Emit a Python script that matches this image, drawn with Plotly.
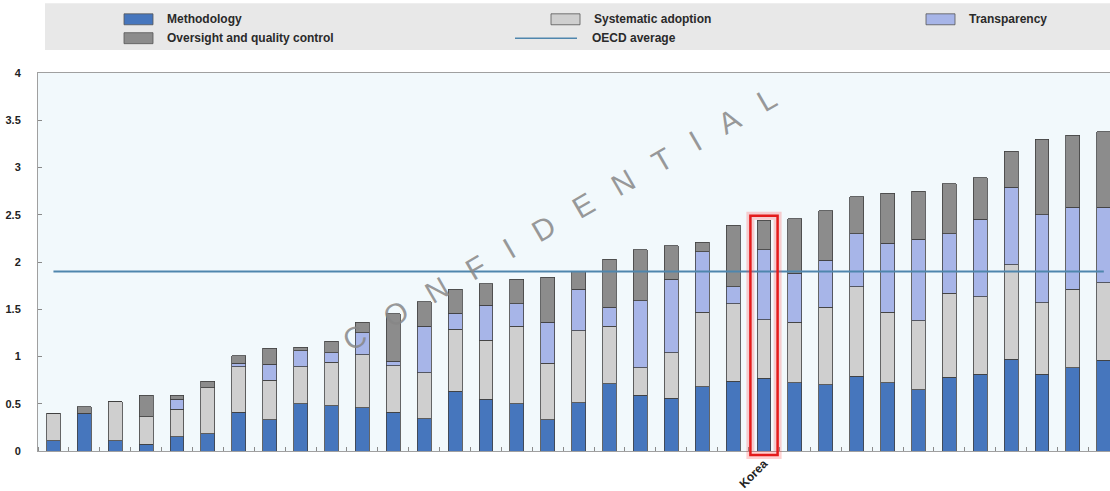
import plotly.graph_objects as go

# Country positions along the x axis; only Korea is labelled
labels = ["", "", "", "", "", "", "", "", "", "", "", "", "",
          "", "", "", "", "", "", "", "", "", "", "Korea", "", "",
          "", "", "", "", "", "", "", "", ""]

methodology = [0.11, 0.40, 0.11, 0.07, 0.15, 0.18, 0.41, 0.33, 0.50, 0.48,
               0.46, 0.41, 0.34, 0.63, 0.55, 0.50, 0.33, 0.51, 0.71, 0.59,
               0.56, 0.68, 0.74, 0.77, 0.72, 0.70, 0.79, 0.72, 0.65, 0.78,
               0.81, 0.97, 0.81, 0.88, 0.96]
systematic = [0.29, 0.00, 0.41, 0.29, 0.29, 0.49, 0.48, 0.42, 0.39, 0.46,
              0.56, 0.49, 0.49, 0.66, 0.62, 0.82, 0.60, 0.76, 0.61, 0.29,
              0.48, 0.79, 0.82, 0.62, 0.64, 0.82, 0.95, 0.75, 0.73, 0.89,
              0.82, 1.00, 0.76, 0.83, 0.82]
transparency = [0.00, 0.00, 0.00, 0.00, 0.11, 0.00, 0.04, 0.17, 0.17, 0.10,
                0.23, 0.05, 0.49, 0.17, 0.37, 0.24, 0.43, 0.44, 0.20, 0.71,
                0.78, 0.64, 0.18, 0.74, 0.52, 0.50, 0.56, 0.73, 0.86, 0.63,
                0.82, 0.82, 0.93, 0.87, 0.80]
oversight = [0.00, 0.07, 0.00, 0.23, 0.04, 0.07, 0.08, 0.17, 0.04, 0.12,
             0.11, 0.50, 0.26, 0.25, 0.23, 0.26, 0.48, 0.19, 0.51, 0.54,
             0.35, 0.10, 0.65, 0.31, 0.58, 0.52, 0.39, 0.53, 0.51, 0.53,
             0.44, 0.38, 0.80, 0.76, 0.80]
oecd_average = 1.9

highlight = "Korea"
y_ticks = [0, 0.5, 1, 1.5, 2, 2.5, 3, 3.5, 4]

FONT = "Liberation Sans Narrow, Liberation Sans, Arial, sans-serif"
C_METH = "#4676bd"
C_SYS = "#cfcfcf"
C_TRANS = "#a7b5e8"
C_OVER = "#8c8c8c"
C_OECD = "#4f86ad"
OUTLINE = "#404040"

W, H = 1110, 491
ML, MR, MT, MB = 38, 0, 73, 38
PW, PH = W - ML - MR, H - MT - MB


def px(x):
    return (x - ML) / PW


def py(y):
    return (H - MB - y) / PH


xs = list(range(len(labels)))
series = [
    ("Methodology", methodology, C_METH),
    ("Systematic adoption", systematic, C_SYS),
    ("Transparency", transparency, C_TRANS),
    ("Oversight and quality control", oversight, C_OVER),
]

fig = go.Figure()
for name, vals, col in series:
    fig.add_trace(go.Bar(
        x=xs, y=vals, name=name, width=0.45,
        marker=dict(color=col, line=dict(color=OUTLINE, width=0.8)),
        showlegend=False,
    ))

fig.add_trace(go.Scatter(
    x=xs, y=[oecd_average] * len(xs), mode="lines", name="OECD average",
    line=dict(color=C_OECD, width=2), showlegend=False,
))

shapes = []
annotations = []

# Legend band
shapes.append(dict(type="rect", xref="paper", yref="paper",
                   x0=px(45), x1=px(1112), y0=py(50), y1=py(3),
                   fillcolor="#e8e8e8", line=dict(width=0), layer="below"))

legend_items = [
    ("Methodology", C_METH, "box", 124, 19),
    ("Systematic adoption", C_SYS, "box", 551, 19),
    ("Transparency", C_TRANS, "box", 926, 19),
    ("Oversight and quality control", C_OVER, "box", 124, 38),
    ("OECD average", C_OECD, "line", 515, 38),
]
for name, col, kind, x, y in legend_items:
    if kind == "box":
        shapes.append(dict(type="rect", xref="paper", yref="paper",
                           x0=px(x), x1=px(x + 29), y0=py(y + 5.5), y1=py(y - 5.5),
                           fillcolor=col, line=dict(color="#555555", width=0.8)))
        tx = x + 41
    else:
        shapes.append(dict(type="line", xref="paper", yref="paper",
                           x0=px(x), x1=px(x + 62), y0=py(y), y1=py(y),
                           line=dict(color=col, width=1.5)))
        tx = x + 75
    annotations.append(dict(xref="paper", yref="paper", x=px(tx), y=py(y),
                            text=name, showarrow=False, xanchor="left",
                            yanchor="middle",
                            font=dict(family=FONT, size=12, weight="bold",
                                      color="#2a2a2a")))

# Highlight box around Korea
k = labels.index(highlight)
for lw, lc in [(8, "rgba(255,70,70,0.25)"), (2.5, "#e41b1b")]:
    shapes.append(dict(type="rect", xref="x", yref="paper",
                       x0=k - 0.44, x1=k + 0.44, y0=py(457), y1=2.49 / 4,
                       line=dict(color=lc, width=lw), fillcolor="rgba(0,0,0,0)",
                       layer="above"))

# Watermark
annotations.append(dict(
    xref="paper", yref="paper", x=px(559), y=py(220),
    text="\u00a0\u00a0\u00a0".join("CONFIDENTIAL"), showarrow=False,
    textangle=-30, font=dict(family="Liberation Sans, Arial", size=30,
                             color="rgba(135,135,135,0.85)"),
))

fig.update_layout(
    width=W, height=H,
    margin=dict(l=ML, r=MR, t=MT, b=MB, pad=0),
    barmode="stack",
    paper_bgcolor="white",
    plot_bgcolor="#f2f9fc",
    showlegend=False,
    shapes=shapes,
    annotations=annotations,
    font=dict(family=FONT, size=11, color="#222222"),
)
fig.update_xaxes(
    range=[-0.5, 34.2],
    tickmode="array", tickvals=xs, ticktext=labels, tickangle=-45,
    ticks="", showgrid=False, zeroline=False,
    showline=True, linecolor="#a0a0a0", linewidth=1, mirror=True,
    tickfont=dict(family=FONT, size=12, weight="bold", color="#222222"),
    minor=dict(ticks="inside", tick0=0.5, dtick=1, ticklen=4,
               tickcolor="#8a8a8a", showgrid=False),
)
fig.update_yaxes(
    range=[0, 4], tickmode="array", tickvals=y_ticks,
    ticktext=[f"{v:g}" for v in y_ticks],
    ticks="inside", ticklen=4, tickcolor="#8a8a8a",
    showgrid=False, zeroline=False,
    showline=True, linecolor="#a0a0a0", linewidth=1,
    ticklabelstandoff=14,
    tickfont=dict(family=FONT, size=11, weight="bold", color="#222222"),
)

fig.write_html("out.html")
